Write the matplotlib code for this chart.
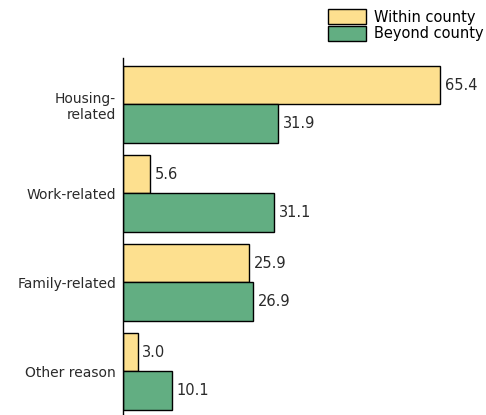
import numpy as np
import matplotlib.pyplot as plt
from matplotlib.patches import Patch

# data
categories = ['Housing-\nrelated', 'Work-related', 'Family-related', 'Other reason']
within = [65.4, 5.6, 25.9, 3.0]
beyond = [31.9, 31.1, 26.9, 10.1]

yellow = '#fde08f'
green = '#62ae82'
txt = '#2a2a2a'

fig = plt.figure(figsize=(4.86, 4.15), dpi=100)
ax = fig.add_axes([123 / 486, 0, (486 - 123) / 486, (415 - 58) / 415])

y = np.arange(len(categories))
h = 0.43
ax.barh(y - h / 2, within, height=h, color=yellow, edgecolor='black', linewidth=1)
ax.barh(y + h / 2, beyond, height=h, color=green, edgecolor='black', linewidth=1)

for yi, v in zip(y - h / 2, within):
    ax.annotate(f'{v:.1f}', (v, yi), xytext=(3.5, 0), textcoords='offset points',
                va='center', ha='left', fontsize=10.5, color=txt)
for yi, v in zip(y + h / 2, beyond):
    ax.annotate(f'{v:.1f}', (v, yi), xytext=(3.5, 0), textcoords='offset points',
                va='center', ha='left', fontsize=10.5, color=txt)

ax.set_xlim(0, 74.85)
ax.set_ylim(3.49, -0.52)
ax.set_yticks(y)
ax.set_yticklabels(categories, fontsize=10, color=txt)
ax.tick_params(axis='y', length=0, pad=5)
ax.set_xticks([])
for s in ['top', 'right', 'bottom']:
    ax.spines[s].set_visible(False)
ax.spines['left'].set_linewidth(1)

handles = [Patch(facecolor=yellow, edgecolor='black', linewidth=1),
           Patch(facecolor=green, edgecolor='black', linewidth=1)]
fig.legend(handles, ['Within county', 'Beyond county'], loc='upper left',
           bbox_to_anchor=(319 / 486, 1.0), frameon=False, fontsize=10.5,
           handlelength=2.6, handleheight=1.2, labelspacing=0.05,
           handletextpad=0.5, borderpad=0.15)

fig.savefig('out.png', dpi=100)
